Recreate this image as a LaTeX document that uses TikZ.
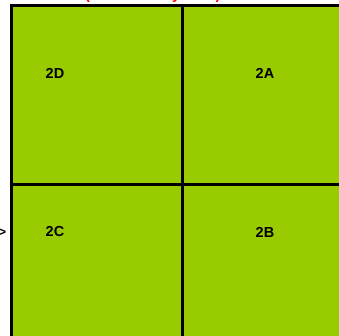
\documentclass[tikz,border=0pt]{standalone}
\usepackage{fontspec}
\setmainfont{Liberation Sans}
\definecolor{quadgreen}{HTML}{99CC00}
\definecolor{titlered}{HTML}{FF0000}
\begin{document}
\begin{tikzpicture}[x=1pt,y=1pt,
  quad/.style={draw=black,line width=3pt,fill=quadgreen,minimum width=171pt,minimum height=179pt,inner sep=0pt,outer sep=0pt,anchor=north west},
  lbl/.style={font=\bfseries\fontsize{14.5}{16}\selectfont,text=black,inner sep=0pt}]
\useasboundingbox (0,0) rectangle (339,335);
\begin{scope}
\clip (0,0) rectangle (339,335);
\node[font=\bfseries\fontsize{14.5}{16}\selectfont,text=titlered,anchor=base west,inner sep=0pt] (title) at (85,335.8) {(Rear of Body view)};
\node[quad] (qD) at (11.5,329.5) {};
\node[quad] (qA) at (182.5,329.5) {};
\node[quad] (qC) at (11.5,150.5) {};
\node[quad] (qB) at (182.5,150.5) {};
\end{scope}
\node[lbl] (lD) at (55,262) {2D};
\node[lbl] (lA) at (265,262) {2A};
\node[lbl] (lC) at (55,103) {2C};
\node[lbl] (lB) at (265,103) {2B};
\node[font=\bfseries\fontsize{13}{14}\selectfont,anchor=east,inner sep=0pt] (arr) at (6.5,102) {>};
\end{tikzpicture}
\end{document}
